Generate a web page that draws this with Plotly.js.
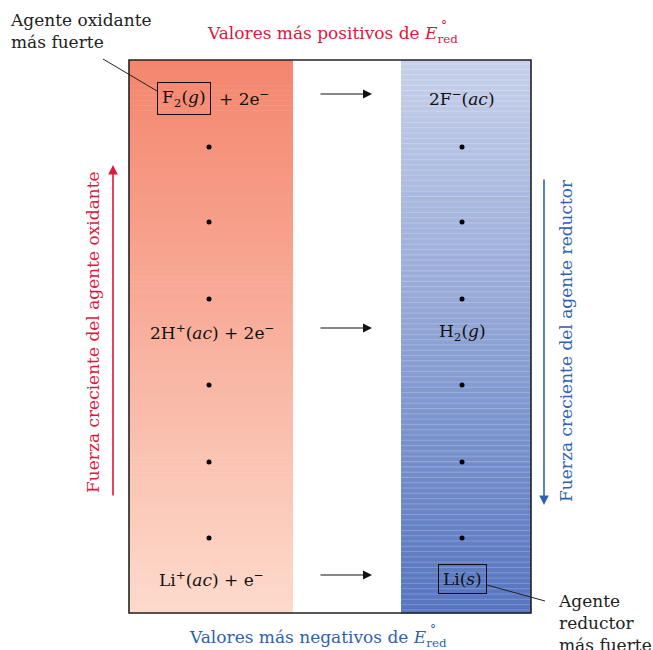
<!DOCTYPE html>
<html><head><meta charset="utf-8">
<script src="https://cdn.plot.ly/plotly-3.0.1.min.js"></script>
<style>body{margin:0;background:#fff}</style>
</head><body><div id="chart" style="width:653px;height:650px"></div>
<script>
// ---- data ----
const leftSpecies = ['F<sub>2</sub>(<i>g</i>)', '2H<sup>+</sup>(<i>ac</i>) + 2e<sup>−</sup>', 'Li<sup>+</sup>(<i>ac</i>) + e<sup>−</sup>'];
const rightSpecies = ['2F<sup>−</sup>(<i>ac</i>)', 'H<sub>2</sub>(<i>g</i>)', 'Li(<i>s</i>)'];
const speciesRows = [98, 332, 579];
const dotRows = [147, 222, 299, 385, 462, 538];
const topLabel = 'Valores más positivos de <i>E</i><sub>red</sub>';
const bottomLabel = 'Valores más negativos de <i>E</i><sub>red</sub>';
const degree = '°';
const leftAxisLabel = 'Fuerza creciente del agente oxidante';
const rightAxisLabel = 'Fuerza creciente del agente reductor';
const strongOx = 'Agente oxidante<br>más fuerte';
const strongRed = 'Agente<br>reductor<br>más fuerte';

// ---- layout geometry (figure pixels) ----
const box = {x0:129, x1:531, y0:60, y1:613};
const redBand = {x0:129, x1:293};
const blueBand = {x0:401, x1:531};
const leftX = 209, rightX = 462;
const arrowX0 = 319, arrowX1 = 372;
const RED = '#E0163C', BLUE = '#2E62B2';
const FONT = 'DejaVu Serif';

function lerp(a,b,t){return Math.round(a+(b-a)*t);}
function mix(c1,c2,t){return 'rgb('+lerp(c1[0],c2[0],t)+','+lerp(c1[1],c2[1],t)+','+lerp(c1[2],c2[2],t)+')';}

const shapes = [];
const N = 110;
const h = (box.y1-box.y0)/N;
for(let i=0;i<N;i++){
  const t = i/(N-1);
  const y0 = box.y0 + i*h, y1 = y0 + h + 0.6;
  shapes.push({type:'rect', xref:'x', yref:'y', x0:redBand.x0, x1:redBand.x1, y0:y0, y1:y1,
    fillcolor: mix([244,134,110],[253,218,204],t), line:{width:0}, layer:'below'});
  shapes.push({type:'rect', xref:'x', yref:'y', x0:blueBand.x0, x1:blueBand.x1, y0:y0, y1:y1,
    fillcolor: mix([198,208,234],[86,117,191],t), line:{width:0}, layer:'below'});
}
// faint stripes on blue band
for(let y=box.y0+4; y<box.y1; y+=5.3){
  shapes.push({type:'line', xref:'x', yref:'y', x0:blueBand.x0, x1:blueBand.x1, y0:y, y1:y,
    line:{color:'rgba(255,255,255,0.22)', width:1}, layer:'below'});
}
// frame
shapes.push({type:'rect', xref:'x', yref:'y', x0:box.x0, x1:box.x1, y0:box.y0, y1:box.y1,
  line:{color:'#222', width:1.6}, fillcolor:'rgba(0,0,0,0)'});
// callout lines
shapes.push({type:'line', xref:'x', yref:'y', x0:103, y0:59, x1:157, y1:91, line:{color:'#222', width:1}});
shapes.push({type:'line', xref:'x', yref:'y', x0:487, y0:585, x1:545, y1:601, line:{color:'#222', width:1}});

const ann = [];
const f = (size,color)=>({family:FONT, size:size, color:color||'#111'});
// top/bottom labels (right-anchored so the degree sign can sit above "red")
ann.push({x:460, y:34, xref:'x', yref:'y', xanchor:'right', text:topLabel, showarrow:false, font:f(17,RED)});
ann.push({x:444, y:26, xref:'x', yref:'y', text:degree, showarrow:false, font:f(12,RED)});
ann.push({x:449, y:638, xref:'x', yref:'y', xanchor:'right', text:bottomLabel, showarrow:false, font:f(17,BLUE)});
ann.push({x:433, y:630, xref:'x', yref:'y', text:degree, showarrow:false, font:f(12,BLUE)});
// callout texts
ann.push({x:8, y:31, xref:'x', yref:'y', text:strongOx, showarrow:false, xanchor:'left', align:'left', font:f(17,'#222')});
ann.push({x:556, y:623, xref:'x', yref:'y', text:strongRed, showarrow:false, xanchor:'left', align:'left', font:f(17,'#222')});
// species
ann.push({x:184, y:speciesRows[0], xref:'x', yref:'y', text:leftSpecies[0], showarrow:false, font:f(17),
  bordercolor:'#111', borderwidth:1, borderpad:4});
ann.push({x:244, y:speciesRows[0], xref:'x', yref:'y', text:'+ 2e<sup>−</sup>', showarrow:false, font:f(17)});
ann.push({x:212, y:speciesRows[1], xref:'x', yref:'y', text:leftSpecies[1], showarrow:false, font:f(17)});
ann.push({x:211, y:speciesRows[2], xref:'x', yref:'y', text:leftSpecies[2], showarrow:false, font:f(17)});
ann.push({x:rightX, y:speciesRows[0], xref:'x', yref:'y', text:rightSpecies[0], showarrow:false, font:f(17)});
ann.push({x:rightX, y:speciesRows[1], xref:'x', yref:'y', text:rightSpecies[1], showarrow:false, font:f(17)});
ann.push({x:rightX, y:speciesRows[2], xref:'x', yref:'y', text:rightSpecies[2], showarrow:false, font:f(17),
  bordercolor:'#111', borderwidth:1, borderpad:4});
// reaction arrows
speciesRows.forEach(r=>{
  ann.push({x:arrowX1, y:r-4, ax:arrowX0, ay:r-4, xref:'x', yref:'y', axref:'x', ayref:'y', text:'',
    showarrow:true, arrowhead:2, arrowsize:1.5, arrowwidth:1.2, arrowcolor:'#111'});
});
// vertical strength arrows
ann.push({x:113, y:165, ax:113, ay:497, xref:'x', yref:'y', axref:'x', ayref:'y', text:'',
  showarrow:true, arrowhead:2, arrowsize:1.2, arrowwidth:1.6, arrowcolor:RED});
ann.push({x:544, y:505, ax:544, ay:178, xref:'x', yref:'y', axref:'x', ayref:'y', text:'',
  showarrow:true, arrowhead:2, arrowsize:1.2, arrowwidth:1.6, arrowcolor:BLUE});
ann.push({x:93, y:332, xref:'x', yref:'y', text:leftAxisLabel, textangle:-90, showarrow:false, font:f(17,RED)});
ann.push({x:566, y:341, xref:'x', yref:'y', text:rightAxisLabel, textangle:-90, showarrow:false, font:f(17,BLUE)});

const traces = [
  {type:'scatter', mode:'markers', x:dotRows.map(()=>leftX), y:dotRows, marker:{color:'#000', size:5}, hoverinfo:'skip', cliponaxis:false},
  {type:'scatter', mode:'markers', x:dotRows.map(()=>rightX), y:dotRows, marker:{color:'#000', size:5}, hoverinfo:'skip', cliponaxis:false}
];

const layout = {
  width:653, height:650, margin:{l:0,r:0,t:0,b:0},
  paper_bgcolor:'#fff', plot_bgcolor:'#fff', showlegend:false,
  xaxis:{range:[0,653], visible:false, fixedrange:true},
  yaxis:{range:[650,0], visible:false, fixedrange:true},
  shapes:shapes, annotations:ann
};
Plotly.newPlot('chart', traces, layout, {staticPlot:true});
</script></body></html>
